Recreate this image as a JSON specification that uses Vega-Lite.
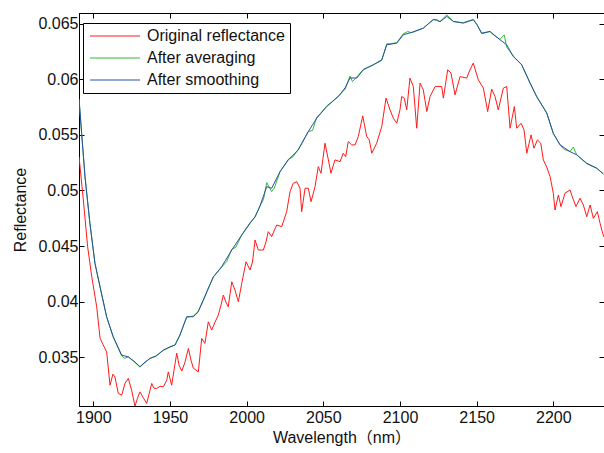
{
  "$schema": "https://vega.github.io/schema/vega-lite/v6.json",
  "width": 525,
  "height": 393,
  "autosize": {"type": "none"},
  "padding": {"left": 79, "top": 13, "right": 0, "bottom": 47},
  "background": "#ffffff",
  "config": {
    "font": "Liberation Sans",
    "view": {"stroke": "#000000", "strokeWidth": 1},
    "legend": {
      "labelFontSize": 16,
      "labelFont": "Liberation Sans",
      "labelColor": "#111111"
    }
  },
  "datasets": {
    "orig": [
      {"wl": 1890.7, "r": 0.05304}, {"wl": 1893.5, "r": 0.04914}, {"wl": 1896.3, "r": 0.04494}, {"wl": 1899.0, "r": 0.04223},
      {"wl": 1902.2, "r": 0.03953}, {"wl": 1904.4, "r": 0.03671}, {"wl": 1906.5, "r": 0.03608}, {"wl": 1908.7, "r": 0.03547},
      {"wl": 1910.9, "r": 0.03247}, {"wl": 1912.8, "r": 0.03347}, {"wl": 1914.1, "r": 0.03322}, {"wl": 1916.3, "r": 0.03173},
      {"wl": 1918.5, "r": 0.03157}, {"wl": 1920.7, "r": 0.03265}, {"wl": 1922.8, "r": 0.03308}, {"wl": 1925.0, "r": 0.03202},
      {"wl": 1927.2, "r": 0.03058}, {"wl": 1928.8, "r": 0.0313}, {"wl": 1930.4, "r": 0.03187}, {"wl": 1932.4, "r": 0.03139},
      {"wl": 1934.8, "r": 0.03083}, {"wl": 1938.1, "r": 0.03263}, {"wl": 1939.6, "r": 0.0322}, {"wl": 1941.3, "r": 0.03218},
      {"wl": 1943.5, "r": 0.03238}, {"wl": 1945.7, "r": 0.03232}, {"wl": 1947.9, "r": 0.03292}, {"wl": 1948.9, "r": 0.03367},
      {"wl": 1951.1, "r": 0.03247}, {"wl": 1954.4, "r": 0.03536}, {"wl": 1955.9, "r": 0.03428}, {"wl": 1957.7, "r": 0.03374},
      {"wl": 1959.8, "r": 0.03455}, {"wl": 1962.0, "r": 0.03578}, {"wl": 1963.7, "r": 0.03473}, {"wl": 1965.2, "r": 0.03401},
      {"wl": 1968.5, "r": 0.03367}, {"wl": 1970.7, "r": 0.03668}, {"wl": 1972.8, "r": 0.03623}, {"wl": 1975.0, "r": 0.03818},
      {"wl": 1977.2, "r": 0.03743}, {"wl": 1979.4, "r": 0.03815}, {"wl": 1981.5, "r": 0.03878}, {"wl": 1983.3, "r": 0.03968},
      {"wl": 1984.8, "r": 0.04058}, {"wl": 1986.5, "r": 0.03995}, {"wl": 1988.0, "r": 0.03953}, {"wl": 1990.3, "r": 0.04178},
      {"wl": 1992.4, "r": 0.04103}, {"wl": 1994.6, "r": 0.03998}, {"wl": 1996.8, "r": 0.04164}, {"wl": 1999.6, "r": 0.04358},
      {"wl": 2002.2, "r": 0.04284}, {"wl": 2003.8, "r": 0.04356}, {"wl": 2005.5, "r": 0.04554}, {"wl": 2007.6, "r": 0.04464},
      {"wl": 2010.9, "r": 0.04464}, {"wl": 2012.6, "r": 0.04536}, {"wl": 2014.1, "r": 0.04629}, {"wl": 2016.3, "r": 0.04584},
      {"wl": 2019.6, "r": 0.04689}, {"wl": 2022.9, "r": 0.04674}, {"wl": 2026.1, "r": 0.04809}, {"wl": 2028.3, "r": 0.04989},
      {"wl": 2030.4, "r": 0.05065}, {"wl": 2032.7, "r": 0.05079}, {"wl": 2034.8, "r": 0.0502}, {"wl": 2035.9, "r": 0.04809},
      {"wl": 2038.1, "r": 0.0502}, {"wl": 2040.2, "r": 0.0502}, {"wl": 2042.0, "r": 0.04899}, {"wl": 2044.6, "r": 0.05034},
      {"wl": 2046.7, "r": 0.05214}, {"wl": 2048.5, "r": 0.05155}, {"wl": 2051.1, "r": 0.05425}, {"wl": 2053.3, "r": 0.05275},
      {"wl": 2055.0, "r": 0.05155}, {"wl": 2057.6, "r": 0.05275}, {"wl": 2060.9, "r": 0.05259}, {"wl": 2063.0, "r": 0.05335},
      {"wl": 2064.6, "r": 0.05304}, {"wl": 2066.3, "r": 0.0544}, {"wl": 2068.5, "r": 0.0541}, {"wl": 2070.7, "r": 0.0541},
      {"wl": 2072.8, "r": 0.05485}, {"wl": 2075.7, "r": 0.05671}, {"wl": 2078.3, "r": 0.05485}, {"wl": 2080.0, "r": 0.05455},
      {"wl": 2081.6, "r": 0.05335}, {"wl": 2084.8, "r": 0.05425}, {"wl": 2088.1, "r": 0.05575}, {"wl": 2090.9, "r": 0.05831},
      {"wl": 2093.5, "r": 0.05725}, {"wl": 2095.7, "r": 0.0565}, {"wl": 2097.9, "r": 0.05605}, {"wl": 2100.0, "r": 0.05725},
      {"wl": 2101.1, "r": 0.05845}, {"wl": 2102.8, "r": 0.05831}, {"wl": 2104.4, "r": 0.05725}, {"wl": 2106.5, "r": 0.06011},
      {"wl": 2108.7, "r": 0.05935}, {"wl": 2110.9, "r": 0.0556}, {"wl": 2113.1, "r": 0.05966}, {"wl": 2115.2, "r": 0.05905},
      {"wl": 2117.5, "r": 0.0571}, {"wl": 2119.6, "r": 0.05845}, {"wl": 2122.9, "r": 0.05935}, {"wl": 2127.2, "r": 0.05935},
      {"wl": 2128.3, "r": 0.05831}, {"wl": 2131.1, "r": 0.06086}, {"wl": 2133.3, "r": 0.06056}, {"wl": 2135.9, "r": 0.0586},
      {"wl": 2139.2, "r": 0.06025}, {"wl": 2143.5, "r": 0.06011}, {"wl": 2145.7, "r": 0.06086}, {"wl": 2147.8, "r": 0.06146},
      {"wl": 2151.1, "r": 0.05995}, {"wl": 2154.4, "r": 0.05921}, {"wl": 2157.2, "r": 0.0571}, {"wl": 2159.8, "r": 0.05912},
      {"wl": 2162.0, "r": 0.05845}, {"wl": 2164.1, "r": 0.05725}, {"wl": 2167.4, "r": 0.05921}, {"wl": 2169.6, "r": 0.05935},
      {"wl": 2171.8, "r": 0.0556}, {"wl": 2174.6, "r": 0.05755}, {"wl": 2176.1, "r": 0.0556}, {"wl": 2179.0, "r": 0.05605},
      {"wl": 2180.9, "r": 0.05545}, {"wl": 2182.7, "r": 0.05335}, {"wl": 2185.5, "r": 0.055}, {"wl": 2187.4, "r": 0.0538},
      {"wl": 2189.6, "r": 0.05455}, {"wl": 2191.8, "r": 0.05425}, {"wl": 2193.5, "r": 0.05275}, {"wl": 2195.9, "r": 0.05203},
      {"wl": 2197.9, "r": 0.05124}, {"wl": 2200.0, "r": 0.04975}, {"wl": 2201.1, "r": 0.04824}, {"wl": 2203.3, "r": 0.04959},
      {"wl": 2205.0, "r": 0.04854}, {"wl": 2207.6, "r": 0.04975}, {"wl": 2210.9, "r": 0.05004}, {"wl": 2212.7, "r": 0.0493},
      {"wl": 2214.8, "r": 0.04854}, {"wl": 2217.4, "r": 0.0493}, {"wl": 2219.6, "r": 0.04869}, {"wl": 2221.8, "r": 0.04764},
      {"wl": 2224.0, "r": 0.04869}, {"wl": 2226.1, "r": 0.04749}, {"wl": 2228.7, "r": 0.04809}, {"wl": 2230.5, "r": 0.04704},
      {"wl": 2232.2, "r": 0.04614}, {"wl": 2233.0, "r": 0.04581}
    ],
    "avg": [
      {"wl": 1890.7, "r": 0.05822}, {"wl": 1892.4, "r": 0.0551}, {"wl": 1894.6, "r": 0.0512}, {"wl": 1897.8, "r": 0.047},
      {"wl": 1901.1, "r": 0.0434}, {"wl": 1904.4, "r": 0.0413}, {"wl": 1908.7, "r": 0.0386}, {"wl": 1913.0, "r": 0.0368},
      {"wl": 1918.5, "r": 0.0351}, {"wl": 1920.5, "r": 0.0349}, {"wl": 1922.8, "r": 0.03502}, {"wl": 1926.5, "r": 0.0346},
      {"wl": 1930.4, "r": 0.0341}, {"wl": 1933.7, "r": 0.0345}, {"wl": 1937.0, "r": 0.0349}, {"wl": 1940.9, "r": 0.0351},
      {"wl": 1945.6, "r": 0.0356}, {"wl": 1950.0, "r": 0.0359}, {"wl": 1953.3, "r": 0.0361}, {"wl": 1956.5, "r": 0.037},
      {"wl": 1960.9, "r": 0.0386}, {"wl": 1965.2, "r": 0.0387}, {"wl": 1968.3, "r": 0.0391}, {"wl": 1971.7, "r": 0.0401},
      {"wl": 1975.0, "r": 0.0412}, {"wl": 1978.3, "r": 0.0422}, {"wl": 1983.7, "r": 0.0431}, {"wl": 1987.0, "r": 0.0436},
      {"wl": 1990.3, "r": 0.0447}, {"wl": 1993.0, "r": 0.0449}, {"wl": 1996.8, "r": 0.046}, {"wl": 2002.2, "r": 0.0471},
      {"wl": 2005.5, "r": 0.0476}, {"wl": 2008.7, "r": 0.0486}, {"wl": 2011.0, "r": 0.0492}, {"wl": 2013.1, "r": 0.0507},
      {"wl": 2016.3, "r": 0.0499}, {"wl": 2018.0, "r": 0.0502}, {"wl": 2021.8, "r": 0.0517}, {"wl": 2027.2, "r": 0.0528},
      {"wl": 2030.0, "r": 0.053}, {"wl": 2033.7, "r": 0.0537}, {"wl": 2040.2, "r": 0.0553}, {"wl": 2043.0, "r": 0.0554},
      {"wl": 2045.7, "r": 0.0566}, {"wl": 2048.0, "r": 0.0569}, {"wl": 2052.2, "r": 0.0576}, {"wl": 2055.0, "r": 0.0579},
      {"wl": 2059.8, "r": 0.0585}, {"wl": 2064.2, "r": 0.0591}, {"wl": 2067.4, "r": 0.0603}, {"wl": 2069.0, "r": 0.0598},
      {"wl": 2071.8, "r": 0.0602}, {"wl": 2076.1, "r": 0.0609}, {"wl": 2082.6, "r": 0.0613}, {"wl": 2088.1, "r": 0.0617},
      {"wl": 2091.4, "r": 0.0632}, {"wl": 2094.0, "r": 0.0632}, {"wl": 2097.9, "r": 0.0633}, {"wl": 2102.2, "r": 0.0641},
      {"wl": 2105.0, "r": 0.0643}, {"wl": 2107.7, "r": 0.0642}, {"wl": 2115.2, "r": 0.0646}, {"wl": 2121.7, "r": 0.0654},
      {"wl": 2124.0, "r": 0.0653}, {"wl": 2126.1, "r": 0.0652}, {"wl": 2130.5, "r": 0.0658}, {"wl": 2134.8, "r": 0.0652},
      {"wl": 2141.3, "r": 0.0651}, {"wl": 2147.8, "r": 0.0654}, {"wl": 2150.3, "r": 0.0649}, {"wl": 2153.3, "r": 0.0641},
      {"wl": 2158.7, "r": 0.0643}, {"wl": 2161.0, "r": 0.064}, {"wl": 2165.2, "r": 0.0636}, {"wl": 2168.0, "r": 0.064},
      {"wl": 2169.6, "r": 0.0629}, {"wl": 2173.9, "r": 0.0621}, {"wl": 2179.4, "r": 0.0613}, {"wl": 2184.8, "r": 0.0597},
      {"wl": 2189.2, "r": 0.0584}, {"wl": 2195.7, "r": 0.057}, {"wl": 2200.0, "r": 0.0551}, {"wl": 2204.4, "r": 0.0541},
      {"wl": 2207.0, "r": 0.0537}, {"wl": 2210.9, "r": 0.0535}, {"wl": 2213.0, "r": 0.0539}, {"wl": 2215.3, "r": 0.0532},
      {"wl": 2221.8, "r": 0.0524}, {"wl": 2228.3, "r": 0.052}, {"wl": 2232.6, "r": 0.0515}
    ],
    "smooth": [
      {"wl": 1890.7, "r": 0.05822}, {"wl": 1892.4, "r": 0.05515}, {"wl": 1894.6, "r": 0.05124}, {"wl": 1897.8, "r": 0.04704},
      {"wl": 1901.1, "r": 0.04344}, {"wl": 1904.4, "r": 0.04133}, {"wl": 1908.7, "r": 0.03863}, {"wl": 1913.0, "r": 0.03683},
      {"wl": 1918.5, "r": 0.03518}, {"wl": 1922.8, "r": 0.03502}, {"wl": 1926.5, "r": 0.03464}, {"wl": 1930.4, "r": 0.03414},
      {"wl": 1933.7, "r": 0.03455}, {"wl": 1937.0, "r": 0.03488}, {"wl": 1940.9, "r": 0.03509}, {"wl": 1945.6, "r": 0.03563},
      {"wl": 1950.0, "r": 0.03593}, {"wl": 1953.3, "r": 0.03608}, {"wl": 1956.5, "r": 0.03698}, {"wl": 1960.9, "r": 0.03863},
      {"wl": 1965.2, "r": 0.03863}, {"wl": 1968.3, "r": 0.03905}, {"wl": 1971.7, "r": 0.04013}, {"wl": 1978.3, "r": 0.04223},
      {"wl": 1983.7, "r": 0.04313}, {"wl": 1990.3, "r": 0.04464}, {"wl": 1996.8, "r": 0.04599}, {"wl": 2002.2, "r": 0.04704},
      {"wl": 2005.5, "r": 0.04764}, {"wl": 2008.7, "r": 0.0486}, {"wl": 2013.1, "r": 0.05034}, {"wl": 2016.3, "r": 0.0502},
      {"wl": 2021.8, "r": 0.05169}, {"wl": 2027.2, "r": 0.05275}, {"wl": 2033.7, "r": 0.05365}, {"wl": 2040.2, "r": 0.0553},
      {"wl": 2045.7, "r": 0.0565}, {"wl": 2052.2, "r": 0.05755}, {"wl": 2059.8, "r": 0.05845}, {"wl": 2064.2, "r": 0.05923},
      {"wl": 2067.4, "r": 0.06013}, {"wl": 2071.8, "r": 0.06011}, {"wl": 2076.1, "r": 0.06086}, {"wl": 2082.6, "r": 0.06131},
      {"wl": 2088.1, "r": 0.06176}, {"wl": 2091.4, "r": 0.06311}, {"wl": 2097.9, "r": 0.06326}, {"wl": 2102.2, "r": 0.06401},
      {"wl": 2107.7, "r": 0.06423}, {"wl": 2115.2, "r": 0.06461}, {"wl": 2121.7, "r": 0.06536}, {"wl": 2124.0, "r": 0.06536},
      {"wl": 2126.1, "r": 0.06518}, {"wl": 2130.5, "r": 0.06566}, {"wl": 2134.8, "r": 0.06521}, {"wl": 2141.3, "r": 0.06506},
      {"wl": 2147.8, "r": 0.06536}, {"wl": 2150.3, "r": 0.0649}, {"wl": 2153.3, "r": 0.06416}, {"wl": 2158.7, "r": 0.06431},
      {"wl": 2165.2, "r": 0.06356}, {"wl": 2169.6, "r": 0.06311}, {"wl": 2173.9, "r": 0.06205}, {"wl": 2179.4, "r": 0.06131},
      {"wl": 2184.8, "r": 0.05966}, {"wl": 2189.2, "r": 0.05845}, {"wl": 2195.7, "r": 0.05695}, {"wl": 2200.0, "r": 0.05515},
      {"wl": 2204.4, "r": 0.0541}, {"wl": 2210.9, "r": 0.05349}, {"wl": 2215.3, "r": 0.0532}, {"wl": 2221.8, "r": 0.05245},
      {"wl": 2228.3, "r": 0.052}, {"wl": 2232.6, "r": 0.05149}
    ]
  },
  "resolve": {"axis": {"x": "independent", "y": "independent"}},
  "layer": [
    {
      "data": {"name": "orig"},
      "mark": {"type": "line", "strokeWidth": 1, "clip": true},
      "encoding": {
        "x": {"field": "wl", "type": "quantitative", "scale": {"domain": [1890.67, 2233.05], "nice": false, "zero": false},
              "axis": {"orient": "bottom", "values": [1900, 1950, 2000, 2050, 2100, 2150, 2200], "format": "d", "grid": false,
                       "domainColor": "#000000", "tickColor": "#000000", "tickSize": -5, "tickWidth": 1,
                       "labelFont": "Liberation Sans", "labelFontSize": 16, "labelColor": "#111111", "labelPadding": 8,
                       "title": "Wavelength（nm）", "titleFont": "Liberation Sans, Noto Sans CJK SC", "titleFontSize": 16, "titleFontWeight": "normal", "titleColor": "#111111", "titlePadding": 4}},
        "y": {"field": "r", "type": "quantitative", "scale": {"domain": [0.0306, 0.06597], "nice": false, "zero": false},
              "axis": {"orient": "left", "values": [0.035, 0.04, 0.045, 0.05, 0.055, 0.06, 0.065], "format": ".3~f", "grid": false,
                       "domainColor": "#000000", "tickColor": "#000000", "tickSize": -5, "tickWidth": 1,
                       "labelFont": "Liberation Sans", "labelFontSize": 16, "labelColor": "#111111", "labelPadding": 6,
                       "title": "Reflectance", "titleFont": "Liberation Sans", "titleFontSize": 16, "titleFontWeight": "normal", "titleColor": "#111111", "titlePadding": 9}},
        "color": {"datum": "Original reflectance", "type": "nominal",
                  "scale": {"domain": ["Original reflectance", "After averaging", "After smoothing"], "range": ["#ff1a1a", "#33b833", "#2a4fa8"]},
                  "legend": {"title": null, "orient": "none", "legendX": 4, "legendY": 10, "direction": "vertical",
                             "strokeColor": "#000000", "fillColor": "#ffffff", "padding": 5,
                             "symbolType": "M-5,0H5", "symbolSize": 100, "symbolStrokeWidth": 1, "symbolOffset": 19,
                             "labelOffset": 24, "rowPadding": 6}}
      }
    },
    {
      "data": {"name": "avg"},
      "mark": {"type": "line", "strokeWidth": 1, "clip": true},
      "encoding": {
        "x": {"field": "wl", "type": "quantitative", "axis": null},
        "y": {"field": "r", "type": "quantitative", "axis": null},
        "color": {"datum": "After averaging", "type": "nominal"}
      }
    },
    {
      "data": {"name": "smooth"},
      "mark": {"type": "line", "strokeWidth": 1, "clip": true},
      "encoding": {
        "x": {"field": "wl", "type": "quantitative",
              "axis": {"orient": "top", "values": [1900, 1950, 2000, 2050, 2100, 2150, 2200], "grid": false, "labels": false, "title": null,
                       "domainColor": "#000000", "tickColor": "#000000", "tickSize": -5, "tickWidth": 1}},
        "y": {"field": "r", "type": "quantitative",
              "axis": {"orient": "right", "values": [0.035, 0.04, 0.045, 0.05, 0.055, 0.06, 0.065], "grid": false, "labels": false, "title": null,
                       "domainColor": "#000000", "tickColor": "#000000", "tickSize": -5, "tickWidth": 1}},
        "color": {"datum": "After smoothing", "type": "nominal"}
      }
    }
  ]
}
